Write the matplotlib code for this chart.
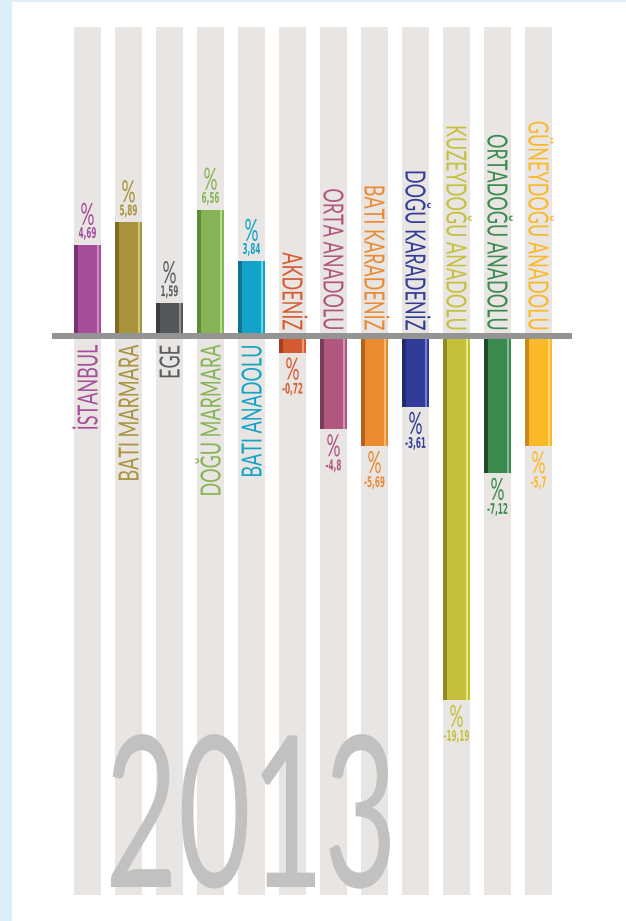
import numpy as np
import matplotlib
matplotlib.use("Agg")
import matplotlib.pyplot as plt
from matplotlib.patches import Rectangle
from matplotlib.patheffects import AbstractPathEffect
from matplotlib.transforms import Affine2D

# data
regions = ["İSTANBUL", "BATI MARMARA", "EGE", "DOĞU MARMARA", "BATI ANADOLU",
           "AKDENİZ", "ORTA ANADOLU", "BATI KARADENİZ", "DOĞU KARADENİZ",
           "KUZEYDOĞU ANADOLU", "ORTADOĞU ANADOLU", "GÜNEYDOĞU ANADOLU"]
values = [4.69, 5.89, 1.59, 6.56, 3.84, -0.72, -4.8, -5.69, -3.61, -19.19, -7.12, -5.7]
year = "2013"

main_cols = ["#a64d9c", "#a8923a", "#53575a", "#86b455", "#14a3c8", "#d75b32",
             "#b0567f", "#ea8a31", "#303c97", "#c5c03a", "#3b8a4f", "#fbb827"]
dark_cols = ["#7b3171", "#7d6b27", "#3b3e40", "#5f8a3a", "#0d7590", "#a63d1e",
             "#7e3a5a", "#b3611c", "#222a6c", "#8e8a24", "#1f4a2a", "#c48b1b"]
light_cols = ["#d08ac6", "#d4c47a", "#8f9396", "#b8dc8c", "#6fd4ea", "#f09a78",
              "#dc94b6", "#f8bb78", "#7880cc", "#e8e47e", "#7cc08a", "#ffd675"]
text_cols = list(main_cols)
text_cols[2] = "#5a5d60"

FONT = ["Lato", "DejaVu Sans"]
BOLD_FONT = ["DejaVu Sans"]


class Squeeze(AbstractPathEffect):
    """draw text glyphs narrower (condensed look) around a display point"""
    def __init__(self, sx=1.0, sy=1.0, cx=0.0, cy=0.0):
        super().__init__()
        self.t = Affine2D().translate(-cx, -cy).scale(sx, sy).translate(cx, cy)

    def draw_path(self, renderer, gc, tpath, affine, rgbFace=None):
        renderer.draw_path(gc, tpath, affine + self.t, rgbFace)


W, H = 626, 921
pitch = 41.0          # px between columns
ppu = 18.8            # px per percent
base_y = 336          # baseline centre, px from top
col_top, col_bot = 27, 895
off = 3 / ppu         # half thickness of the baseline in data units

fig = plt.figure(figsize=(W / 100, H / 100), dpi=100, facecolor="#dceef8")
fig.patches.append(Rectangle((12 / W, 0), 1, 1 - 2 / H, transform=fig.transFigure,
                             facecolor="white", edgecolor="none", zorder=-1))
renderer = fig.canvas.get_renderer()


def natural_width(s, **kw):
    t = fig.text(0, 0, s, **kw)
    w = t.get_window_extent(renderer).width
    t.remove()
    return w


ax = fig.add_axes([67 / W, (H - col_bot) / H, 12 * pitch / W, (col_bot - col_top) / H])
ax.set_facecolor("none")
ax.axis("off")
ytop = (base_y - col_top) / ppu
ybot = -(col_bot - base_y) / ppu
ax.set_xlim(-0.5, 11.5)
ax.set_ylim(ybot, ytop)

x = np.arange(len(values))
vals = np.array(values)
w = 27 / pitch
bottoms = np.where(vals > 0, off, -off)

# background stripes
ax.bar(x, ytop - ybot, bottom=ybot, width=w, color="#e8e5e2", zorder=1)

# bars with a dark left edge and a light thin line near the right
ax.bar(x, vals, bottom=bottoms, width=w, color=main_cols, zorder=2)
sw = 4 / pitch
ax.bar(x - w / 2 + sw / 2, vals, bottom=bottoms, width=sw, color=dark_cols, zorder=3)
ax.bar(x + 10.5 / pitch, vals, bottom=bottoms, width=2 / pitch, color=light_cols, zorder=3)

# baseline
ax.plot([-0.5 - 15 / pitch, 11.5 + 13 / pitch], [0, 0], color="#949494", lw=6 * 0.72,
        solid_capstyle="butt", clip_on=False, zorder=4)

# text sizes and how much to squeeze them
name_fs, pct_fs, val_fs = 20, 22, 10.5
name_k = 205 / natural_width("KUZEYDOĞU ANADOLU", fontsize=name_fs, family=FONT)
pct_k = 14 / natural_width("%", fontsize=pct_fs, family=FONT)
val_k = 26 / natural_width("-19,19", fontsize=val_fs, family=BOLD_FONT, fontweight="bold")

for i, v in enumerate(values):
    c = text_cols[i]
    end = v + bottoms[i]
    label = str(v).replace(".", ",")
    px, py = ax.transData.transform((i, end))
    bx, by = ax.transData.transform((i, 0))
    if v > 0:
        ax.annotate(label, (i, end), xytext=(0, 7), textcoords="offset pixels",
                    ha="center", va="baseline", fontsize=val_fs, fontweight="bold",
                    color=c, family=BOLD_FONT, zorder=5,
                    path_effects=[Squeeze(sx=val_k, cx=px)])
        ax.annotate("%", (i, end), xytext=(0, 20), textcoords="offset pixels",
                    ha="center", va="baseline", fontsize=pct_fs, color=c, family=FONT,
                    zorder=5, path_effects=[Squeeze(sx=pct_k, cx=px)])
        ax.annotate(regions[i], (i, 0), xytext=(10, -9), textcoords="offset pixels",
                    ha="right", va="baseline", rotation=90, rotation_mode="anchor",
                    fontsize=name_fs, color=c, family=FONT, zorder=5,
                    path_effects=[Squeeze(sy=name_k, cy=by - 9)])
    else:
        ax.annotate("%", (i, end), xytext=(0, -27), textcoords="offset pixels",
                    ha="center", va="baseline", fontsize=pct_fs, color=c, family=FONT,
                    zorder=5, path_effects=[Squeeze(sx=pct_k, cx=px)])
        ax.annotate(label, (i, end), xytext=(0, -41), textcoords="offset pixels",
                    ha="center", va="baseline", fontsize=val_fs, fontweight="bold",
                    color=c, family=BOLD_FONT, zorder=5,
                    path_effects=[Squeeze(sx=val_k, cx=px)])
        ax.annotate(regions[i], (i, 0), xytext=(-10, 6), textcoords="offset pixels",
                    ha="right", va="baseline", rotation=-90, rotation_mode="anchor",
                    fontsize=name_fs, color=c, family=FONT, zorder=5,
                    path_effects=[Squeeze(sy=name_k, cy=by + 6)])

# big year in the bottom
year_fs = 152
year_k = 292 / natural_width(year, fontsize=year_fs, family=FONT)
fig.text(251 / W, 1 - 887 / H, year, ha="center", va="baseline", fontsize=year_fs,
         color="#c1c1c1", family=FONT, zorder=6,
         path_effects=[Squeeze(sx=year_k, cx=251)])

fig.savefig("out.png", dpi=100, facecolor=fig.get_facecolor())
